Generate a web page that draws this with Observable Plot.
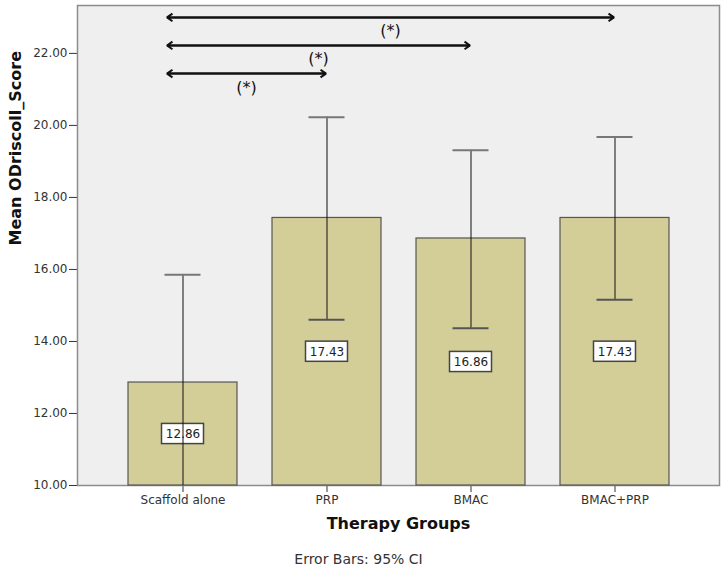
<!DOCTYPE html>
<html><head><meta charset="utf-8">
<script src="https://cdn.jsdelivr.net/npm/d3@7"></script>
<script src="https://cdn.jsdelivr.net/npm/@observablehq/plot@0.6"></script>
<style>
body{margin:0;background:#fff;}
#chart svg{display:block;}
</style>
</head><body><div id="chart"></div>
<script>
// ---- data ----
const groups = ["Scaffold alone", "PRP", "BMAC", "BMAC+PRP"];
const means = [12.86, 17.43, 16.86, 17.43];
const ciLow = [9.87, 14.60, 14.37, 15.16];
const ciHigh = [15.85, 20.23, 19.31, 19.68];
const yTicks = [10, 12, 14, 16, 18, 20, 22];
const yMin = 10, yMax = 23.33;
const sigFrom = ["Scaffold alone", "Scaffold alone", "Scaffold alone"];
const sigTo = ["BMAC+PRP", "BMAC", "PRP"];
const sigY = [23.0, 22.22, 21.44];
const sigLabels = ["(*)", "(*)", "(*)"];
const yLabel = "Mean ODriscoll_Score";
const xLabel = "Therapy Groups";
const footnote = "Error Bars: 95% CI";

const rows = groups.map((g, i) => ({group: g, mean: means[i], lo: ciLow[i], hi: ciHigh[i], mid: (yMin + means[i]) / 2}));
const sig = sigFrom.map((f, i) => ({from: f, to: sigTo[i], y: sigY[i], label: sigLabels[i]}));
const fmt = d3.format(".2f");
const font = "DejaVu Sans, sans-serif";
const boxHalf = 0.28;

// significance labels placed at the middle of each arrow (through the x/y scales)
function sigText(index, scales, values, dims) {
  const x = scales.x || (scales.scales && scales.scales.x);
  const y = scales.y || (scales.scales && scales.scales.y);
  const bw = x.bandwidth ? x.bandwidth() / 2 : 0;
  const g = d3.create("svg:g");
  for (const s of sig) {
    const xm = (x(s.from) + x(s.to)) / 2 + bw - 8;
    g.append("text").attr("x", xm).attr("y", y(s.y) + 15)
      .attr("text-anchor", "middle").attr("dominant-baseline", "middle")
      .attr("font-size", 16).attr("font-family", font).attr("fill", "#111")
      .text(s.label);
  }
  return g.node();
}

const arrowStyle = {stroke: "#111", strokeWidth: 2, headLength: 5, headAngle: 70, strokeLinejoin: "miter", strokeLinecap: "butt"};

const chart = Plot.plot({
  width: 726, height: 573,
  marginTop: 5, marginRight: 7, marginBottom: 88, marginLeft: 77,
  style: {fontFamily: font, fontSize: "12px", color: "#333", background: "#fff"},
  x: {domain: groups, paddingInner: 0.2457, paddingOuter: 0.346, align: 0.5, label: null, tickSize: 7, tickPadding: 3, line: true},
  y: {domain: [yMin, yMax], ticks: yTicks, tickFormat: fmt, label: null, tickSize: 8, tickPadding: 2, line: true},
  marks: [
    Plot.frame({fill: "#efefef", stroke: "#8c8c8c", strokeWidth: 1.5}),
    Plot.barY(rows, {x: "group", y1: yMin, y2: "mean", fill: "#d3ce98", stroke: "#555", strokeWidth: 1.2}),
    Plot.barY(rows, {x: "group", y1: d => d.mid - boxHalf, y2: d => d.mid + boxHalf, insetLeft: 33.5, insetRight: 33.5, fill: "#fff", stroke: "#444", strokeWidth: 1.5}),
    Plot.text(rows, {x: "group", y: "mid", text: d => fmt(d.mean), fill: "#222", fontSize: 12}),
    Plot.ruleX(rows, {x: "group", y1: "lo", y2: "hi", stroke: "#111", strokeWidth: 1, clip: true}),
    Plot.tickY(rows, {x: "group", y: "hi", insetLeft: 36.5, insetRight: 36.5, stroke: "#777", strokeWidth: 2}),
    Plot.tickY(rows, {x: "group", y: "lo", insetLeft: 36.5, insetRight: 36.5, stroke: "#555", strokeWidth: 2, clip: true}),
    Plot.arrow(sig, {x1: "from", x2: "to", y1: "y", y2: "y", ...arrowStyle, insetStart: -16, insetEnd: 1}),
    Plot.arrow(sig, {x1: "to", x2: "from", y1: "y", y2: "y", ...arrowStyle, insetStart: 1, insetEnd: -16}),
    sigText,
    Plot.text([yLabel], {text: d => d, frameAnchor: "left", rotate: -90, dx: -62, fontWeight: "bold", fontSize: 16, fill: "#111"}),
    Plot.text([xLabel], {text: d => d, frameAnchor: "bottom", dy: 43, fontWeight: "bold", fontSize: 16, fill: "#111"}),
    Plot.text([footnote], {text: d => d, frameAnchor: "bottom", dy: 78, dx: -40, fontSize: 14, fill: "#333"})
  ]
});
document.getElementById("chart").appendChild(chart);
</script>
</body></html>
